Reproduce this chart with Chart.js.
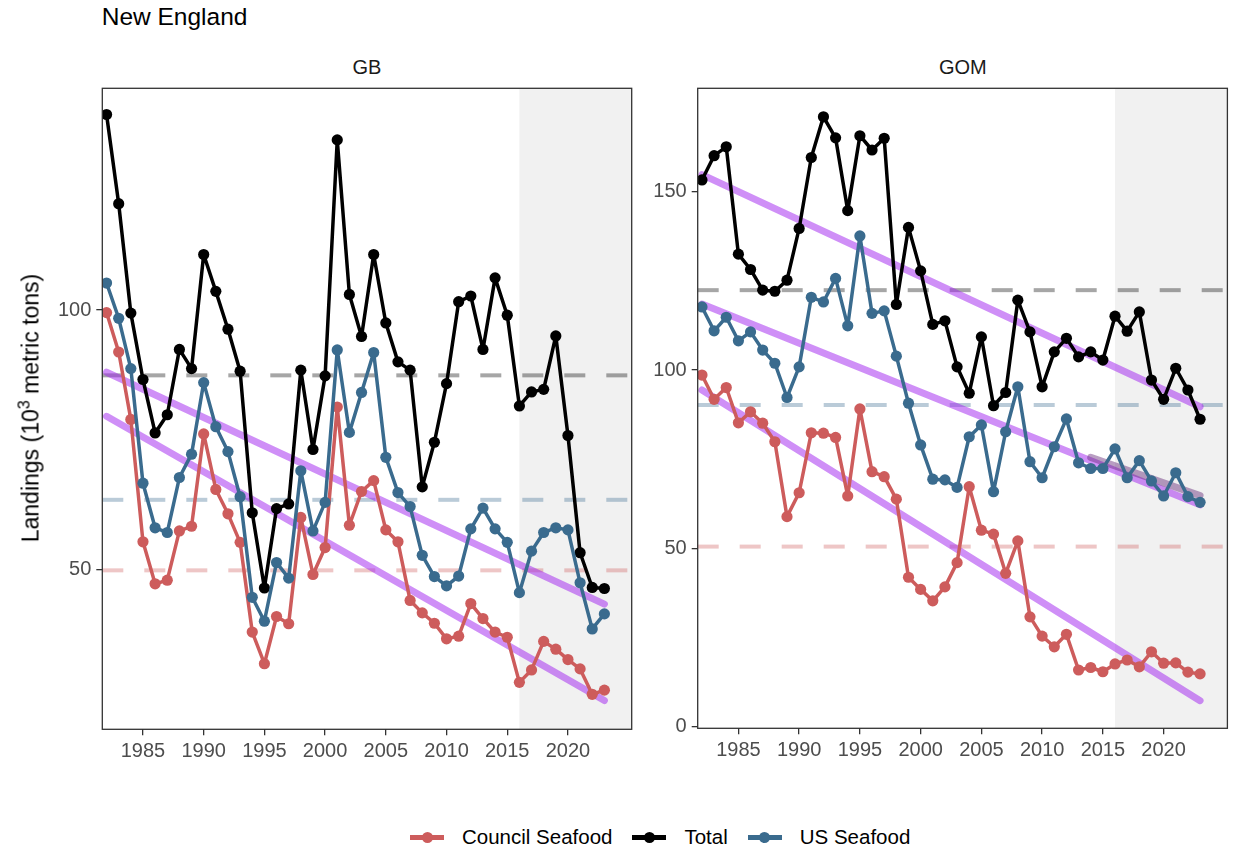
<!DOCTYPE html>
<html>
<head>
<meta charset="utf-8">
<script src="https://cdn.jsdelivr.net/npm/chart.js@4.4.1/dist/chart.umd.min.js"></script>
<style>
body { margin: 0; background: #fff; width: 1233px; height: 850px; position: relative; overflow: hidden;
       font-family: "Liberation Sans", Arial, sans-serif; }
canvas { position: absolute; top: 0; }
#title { position: absolute; left: 101.7px; top: 5px; font-size: 24.5px; line-height: 1; color: #000; }
.strip { position: absolute; top: 57px; width: 400px; text-align: center; font-size: 20px; line-height: 1; color: #1a1a1a; }
#ylab { position: absolute; left: 31px; top: 408px; transform: translate(-50%, -50%) rotate(-90deg);
        white-space: nowrap; font-size: 23px; line-height: 1; color: #000; }
#ylab sup { font-size: 0.7em; vertical-align: 0.55em; line-height: 0; }
#legend { position: absolute; left: 410px; top: 826px; height: 22px; display: flex; align-items: center;
          font-size: 20.5px; color: #000; }
.key { display: inline-block; position: relative; width: 34px; height: 11px; margin-right: 18px; }
.key::before { content: ""; position: absolute; left: 0; top: 3px; width: 34px; height: 5px; background: var(--c); }
.key::after { content: ""; position: absolute; left: 11.5px; top: 0; width: 11px; height: 11px; border-radius: 50%; background: var(--c); }
.lab { margin-right: 20px; }
</style>
</head>
<body>
<div id="title">New England</div>
<div class="strip" style="left:167px">GB</div>
<div class="strip" style="left:762.9px">GOM</div>
<canvas id="gb" width="640" height="790" style="left:0"></canvas>
<canvas id="gom" width="593" height="790" style="left:640px"></canvas>
<div id="ylab">Landings (10<sup>3</sup> metric tons)</div>
<div id="legend">
  <span class="key" style="--c:#CD5C5C"></span><span class="lab">Council Seafood</span>
  <span class="key" style="--c:#000"></span><span class="lab">Total</span>
  <span class="key" style="--c:#3A6B8E"></span><span class="lab">US Seafood</span>
</div>
<script>
var years = [1982,1983,1984,1985,1986,1987,1988,1989,1990,1991,
             1992,1993,1994,1995,1996,1997,1998,1999,2000,2001,
             2002,2003,2004,2005,2006,2007,2008,2009,2010,2011,
             2012,2013,2014,2015,2016,2017,2018,2019,2020,2021,
             2022,2023];

// GB
var gbTotal = [137.7,120.5,99.4,86.6,76.3,79.8,92.4,88.7,110.7,103.6,
               96.3,88.2,60.9,46.4,61.7,62.6,88.4,73.1,87.3,132.8,
               103.0,94.9,110.7,97.5,90.0,88.4,65.9,74.5,85.8,101.6,
               102.7,92.4,106.2,99.0,81.5,84.2,84.7,95.0,75.8,53.2,
               46.5,46.3];
var gbUS = [105.2,98.4,88.7,66.6,58.0,57.1,67.7,72.2,86.0,77.5,
            72.7,64.0,44.6,40.0,51.3,48.3,69.0,57.4,62.9,92.3,
            76.4,84.1,91.8,71.6,64.8,62.1,52.7,48.6,46.8,48.7,
            57.8,61.8,57.8,55.2,45.5,53.5,57.1,58.0,57.6,47.4,
            38.5,41.4];
var gbCouncil = [99.5,91.9,78.9,55.3,47.2,47.9,57.4,58.3,76.1,65.4,
                 60.7,55.2,37.9,31.8,40.9,39.5,60.0,49.0,54.2,81.3,
                 58.5,65.0,67.1,57.6,55.3,44.0,41.6,39.6,36.6,37.1,
                 43.4,40.5,37.9,36.9,28.2,30.6,36.1,34.6,32.6,30.8,
                 25.9,26.7];

// GOM
var gomTotal = [153.3,160.1,162.6,132.5,128.2,122.4,122.1,125.2,139.7,159.6,
                171.0,165.1,144.7,165.7,161.7,165.0,118.4,140.0,127.8,112.8,
                113.8,100.9,93.5,109.3,90.0,93.7,119.6,110.7,95.3,105.1,
                108.9,103.7,105.1,102.8,115.1,110.9,116.3,97.2,91.8,100.5,
                94.4,86.2];
var gomUS = [117.7,111.0,114.8,108.2,110.7,105.6,101.9,92.3,100.9,120.4,
             119.1,125.7,112.4,137.6,115.9,116.6,103.9,90.7,79.0,69.4,
             69.2,67.1,81.3,84.6,65.9,82.7,95.3,74.3,69.8,78.5,
             86.3,74.0,72.4,72.4,77.9,69.8,74.6,68.9,64.7,71.2,
             64.5,62.9];
var gomCouncil = [98.6,91.8,95.1,85.2,88.3,85.1,79.9,58.9,65.6,82.4,
                  82.3,81.1,64.7,89.1,71.5,70.1,63.8,41.9,38.5,35.3,
                  39.2,46.0,67.3,55.1,54.0,43.0,52.1,30.8,25.4,22.4,
                  25.9,15.9,16.6,15.4,17.6,18.7,16.8,21.0,17.8,17.9,
                  15.3,14.8];

// long term means: Total, US, Council
var gbMeans = [87.4, 63.4, 49.8];
var gomMeans = [122.4, 90.2, 50.5];

// trend lines, start and end value
var trendYears = [1982, 2023];
var gbTrendUS = [88.0, 43.3];
var gbTrendCouncil = [79.5, 24.7];
var gomTrendTotal = [154.8, 89.7];
var gomTrendUS = [118.5, 62.2];
var gomTrendCouncil = [94.4, 7.3];
var recentYears = [2014, 2023];
var gomTrendUSRecent = [75.5, 64.8];

var xTicks = [1985, 1990, 1995, 2000, 2005, 2010, 2015, 2020];
var gbYTicks = [50, 100];
var gomYTicks = [0, 50, 100, 150];
var shadeStart = 2016;
var xMin = 1981.65, xMax = 2025.25;

var RED = '#CD5C5C', BLUE = '#3A6B8E', BLACK = '#000000';
var TREND = 'rgba(160,32,240,0.5)';

Chart.defaults.font.family = '"Liberation Sans", Arial, sans-serif';
Chart.defaults.animation = false;

function pts(xs, ys) {
    return xs.map((x, i) => ({x: x, y: ys[i]}));
}

function series(label, vals, color) {
    return {
        label: label, data: pts(years, vals), borderColor: color, backgroundColor: color,
        borderWidth: 3.5, borderJoinStyle: 'round', borderCapStyle: 'round',
        pointRadius: 5.6, pointBorderWidth: 0, pointBackgroundColor: color,
        order: label == 'US Seafood' ? 0 : (label == 'Total' ? 1 : 2)
    };
}

function meanLine(v, color) {
    return {
        data: [{x: xMin, y: v}, {x: xMax, y: v}], borderColor: color, borderWidth: 4,
        borderDash: [21, 21], pointRadius: 0, order: 5
    };
}

function trendLine(xs, ends, color) {
    return {
        data: pts(xs, ends), borderColor: color || TREND, borderWidth: 7,
        borderCapStyle: 'round', pointRadius: 0, order: 4
    };
}

var panelDecor = {
    id: 'panelDecor',
    beforeDatasetsDraw(chart) {
        const ctx = chart.ctx, a = chart.chartArea;
        const x0 = chart.scales.x.getPixelForValue(shadeStart);
        ctx.save();
        ctx.fillStyle = '#F1F1F1';
        ctx.fillRect(x0, a.top, a.right - x0, a.bottom - a.top);
        ctx.restore();
    },
    afterDraw(chart) {
        const ctx = chart.ctx, a = chart.chartArea;
        ctx.save();
        ctx.strokeStyle = '#333333';
        ctx.lineWidth = 1.3;
        ctx.strokeRect(a.left, a.top, a.right - a.left, a.bottom - a.top);
        ctx.restore();
    }
};

function makePanel(id, datasets, yMin, yMax, yTicks, yWidth, pad) {
    return new Chart(document.getElementById(id), {
        type: 'line',
        data: {datasets: datasets},
        plugins: [panelDecor],
        options: {
            responsive: false,
            devicePixelRatio: 1,
            layout: {padding: pad},
            plugins: {legend: {display: false}, tooltip: {enabled: false}},
            scales: {
                x: {
                    type: 'linear', min: xMin, max: xMax,
                    afterBuildTicks: s => { s.ticks = xTicks.map(v => ({value: v})); },
                    afterFit: s => { s.height = 40; },
                    border: {display: false},
                    grid: {drawOnChartArea: false, drawTicks: true, tickLength: 6, color: '#333333', lineWidth: 1.3},
                    ticks: {color: '#4D4D4D', font: {size: 20}, padding: 4, maxRotation: 0, callback: v => String(v)}
                },
                y: {
                    min: yMin, max: yMax,
                    afterBuildTicks: s => { s.ticks = yTicks.map(v => ({value: v})); },
                    afterFit: s => { s.width = yWidth; },
                    border: {display: false},
                    grid: {drawOnChartArea: false, drawTicks: true, tickLength: 6, color: '#333333', lineWidth: 1.3},
                    ticks: {color: '#4D4D4D', font: {size: 20}, padding: 5, callback: v => String(v)}
                }
            }
        }
    });
}

makePanel('gb', [
    series('US Seafood', gbUS, BLUE),
    series('Total', gbTotal, BLACK),
    series('Council Seafood', gbCouncil, RED),
    trendLine(trendYears, gbTrendUS),
    trendLine(trendYears, gbTrendCouncil),
    meanLine(gbMeans[0], 'rgba(0,0,0,0.35)'),
    meanLine(gbMeans[1], 'rgba(58,107,142,0.35)'),
    meanLine(gbMeans[2], 'rgba(205,92,92,0.35)')
], 19.15, 142.75, gbYTicks, 102.3, {top: 88.3, right: 8.3, bottom: 20.7, left: 0});

var recent = trendLine(recentYears, gomTrendUSRecent, 'rgba(100,40,120,0.45)');
recent.order = 3;

makePanel('gom', [
    series('US Seafood', gomUS, BLUE),
    series('Total', gomTotal, BLACK),
    series('Council Seafood', gomCouncil, RED),
    recent,
    trendLine(trendYears, gomTrendTotal),
    trendLine(trendYears, gomTrendUS),
    trendLine(trendYears, gomTrendCouncil),
    meanLine(gomMeans[0], 'rgba(0,0,0,0.35)'),
    meanLine(gomMeans[1], 'rgba(58,107,142,0.35)'),
    meanLine(gomMeans[2], 'rgba(205,92,92,0.35)')
], -0.45, 179, gomYTicks, 57.7, {top: 88.3, right: 5, bottom: 21.7, left: 0});
</script>
</body>
</html>
